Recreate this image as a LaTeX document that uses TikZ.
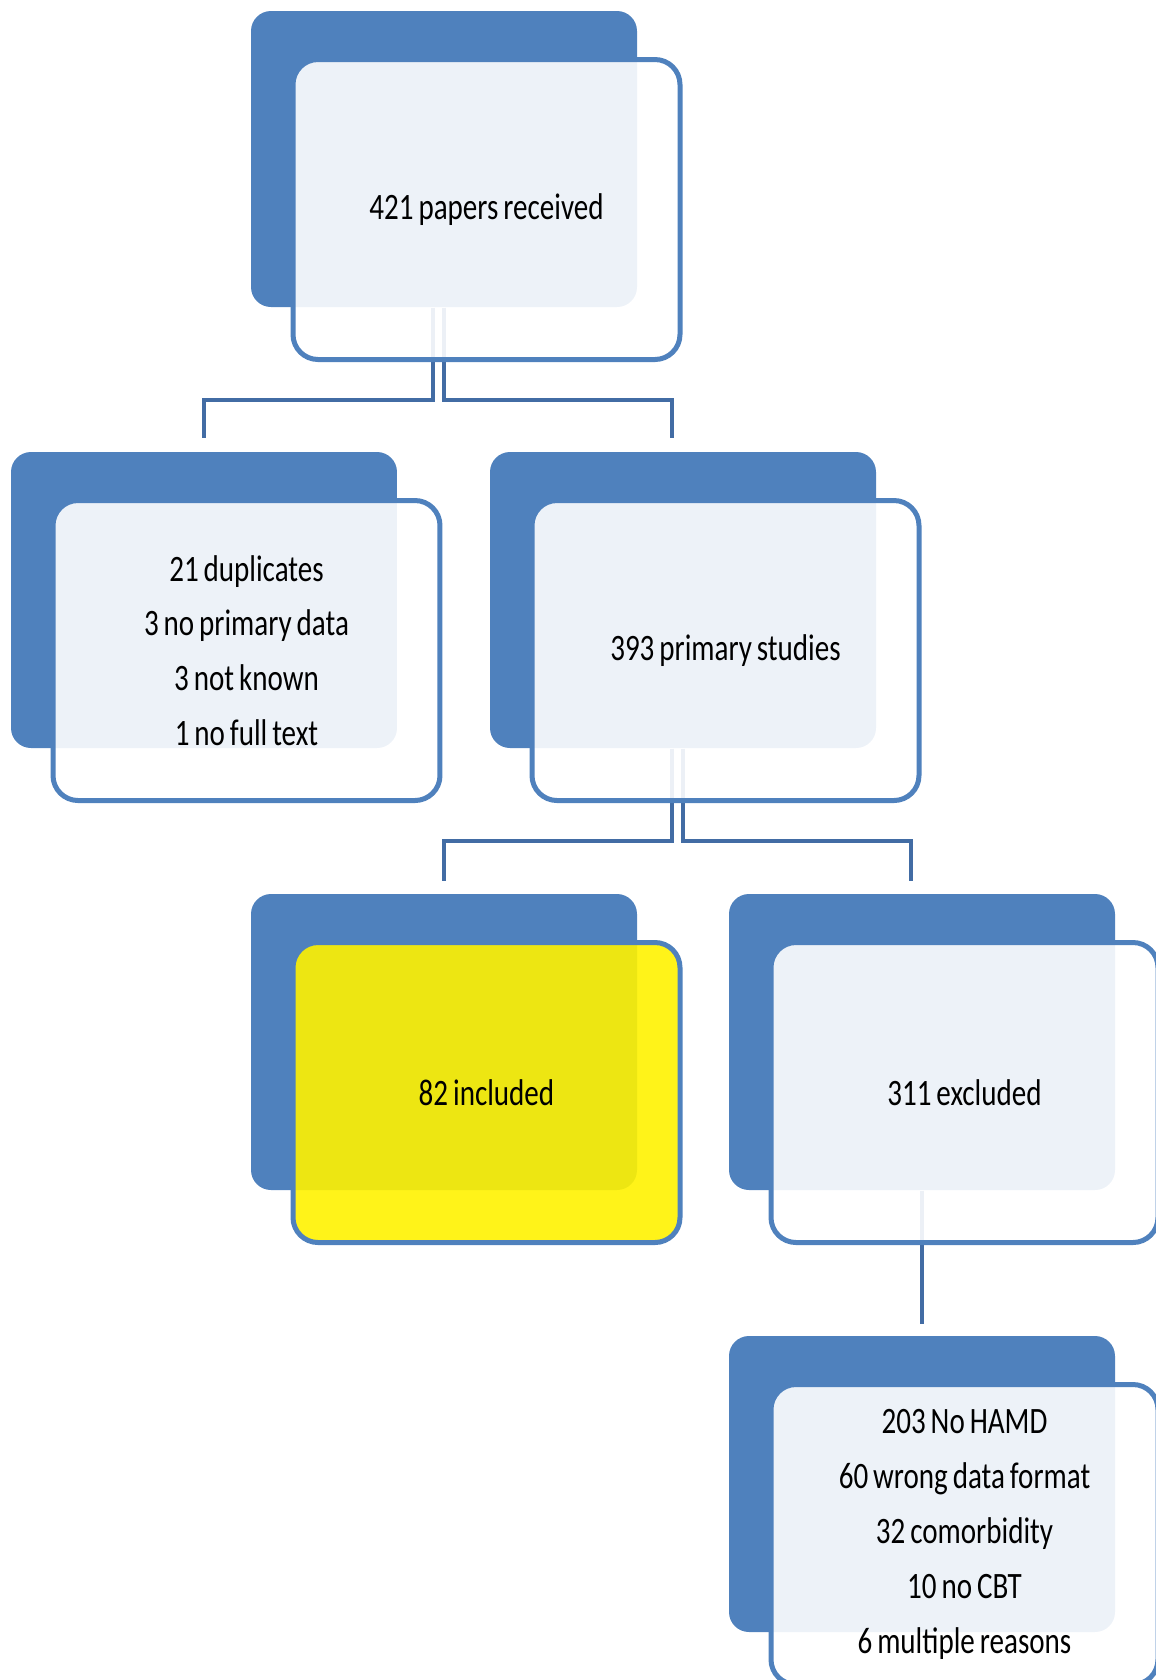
\documentclass[tikz,border=0pt]{standalone}
\usepackage{fontspec}
\setmainfont{Carlito}[FakeStretch=0.78, WordSpace=0.75]
\usetikzlibrary{positioning}
\definecolor{boxblue}{RGB}{79,129,189}
\definecolor{linkblue}{RGB}{66,108,164}
\pgfdeclarelayer{background}
\pgfsetlayers{background,main}
\tikzset{
  pics/stack_box/.style args={#1,#2,#3}{
     code={
       \node[backbox] (#1-back) at (0,0) {};
       \node[frontbox, #3] (#1) at (42.5,50.5) {#2};
     }
  }
}

\begin{document}
\begin{tikzpicture}
    [x=0.1mm, y=-0.1mm,
    backbox/.style={fill=boxblue, rounded corners=2mm, minimum width=38.6mm, minimum height=29.6mm, inner sep=0pt},
    frontbox/.style={draw=boxblue, line width=0.5mm, fill=white, fill opacity=0.9, text opacity=1, rounded corners=2.5mm, minimum width=38.7mm, minimum height=30mm, inner sep=0pt, align=center, font=\fontsize{10.6}{15.6}\selectfont},
    link/.style={draw=linkblue, line width=0.4mm}]
    \useasboundingbox (0,0) rectangle (1155,1680);
    \pic at (444,159)  {stack_box={recv,421 papers received,}};
    \pic at (204,600)  {stack_box={dup,21 duplicates\\3 no primary data\\3 not known\\1 no full text,}};
    \pic at (683,600)  {stack_box={prim,393 primary studies,}};
    \pic at (444,1042) {stack_box={incl,82 included,fill=yellow}};
    \pic at (922,1042) {stack_box={excl,311 excluded,}};
    \pic at (922,1484) {stack_box={reason,203 No HAMD\\60 wrong data format\\32 comorbidity\\10 no CBT\\6 multiple reasons,}};
    \begin{pgfonlayer}{background}
    \draw[link] ([xshift=-1.1mm]recv-back.south) -- ++(0,92) -| ([yshift=1.3mm]dup-back.north);
    \draw[link] (recv-back.south) -- ++(0,92) -| ([xshift=-1.1mm, yshift=1.3mm]prim-back.north);
    \draw[link] ([xshift=-1.1mm]prim-back.south) -- ++(0,92) -| ([yshift=1.2mm]incl-back.north);
    \draw[link] (prim-back.south) -- ++(0,92) -| ([xshift=-1.1mm, yshift=1.2mm]excl-back.north);
    \draw[link] (excl-back.south) -- ([yshift=1.1mm]reason-back.north);
    \end{pgfonlayer}
\end{tikzpicture}
\end{document}
